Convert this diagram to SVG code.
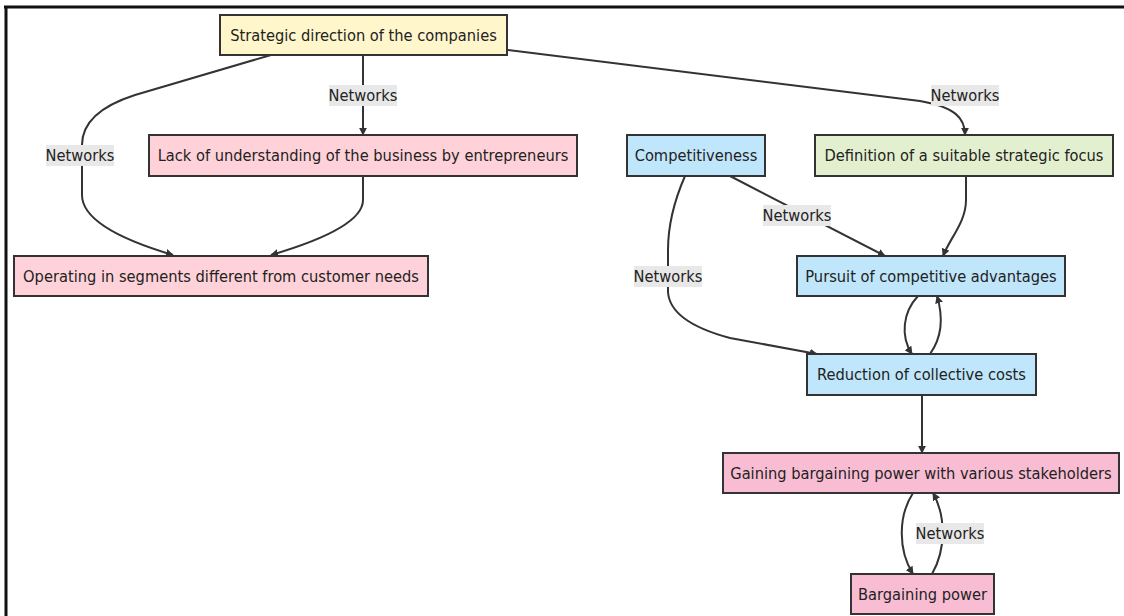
<svg xmlns="http://www.w3.org/2000/svg" width="1124" height="616" viewBox="0 0 1124 616">
<style>
.node rect{stroke:#333;stroke-width:2}
.node text,.lbl text{font-family:"DejaVu Sans Condensed","DejaVu Sans",sans-serif;font-size:16.3px;fill:#222;text-anchor:middle;dominant-baseline:central}
.edge{fill:none;stroke:#333;stroke-width:2}
.lbl rect{fill:#e8e8e8}
.yellow{fill:#fff6cc}
.pink{fill:#ffd2d9}
.blue{fill:#bfe6fb}
.green{fill:#e3f0cf}
.rose{fill:#f9bdd3}
</style>
<defs>
<marker id="arr" viewBox="0 0 10 10" refX="9" refY="5" markerWidth="4" markerHeight="4" orient="auto" markerUnits="strokeWidth">
<path d="M0,0 L10,5 L0,10 z" fill="#333"/>
</marker>
</defs>
<g id="frame">
<line x1="4" y1="7" x2="1124" y2="7" stroke="#111" stroke-width="3"/>
<line x1="6" y1="6" x2="6" y2="616" stroke="#111" stroke-width="3"/>
</g>
<g id="connectors">
<path class="edge" d="M271,55 L135,95 Q82,112 82,145 L82,195 Q82,228 173,255" marker-end="url(#arr)"/>
<path class="edge" d="M363,55 L363,135" marker-end="url(#arr)"/>
<path class="edge" d="M363,176 L363,200 Q363,228 271,255" marker-end="url(#arr)"/>
<path class="edge" d="M508,50 L920,101 C955,107 965,118 965,135" marker-end="url(#arr)"/>
<path class="edge" d="M966,176 L966,200 C966,222 950,238 943,256" marker-end="url(#arr)"/>
<path class="edge" d="M730,176 L885,256" marker-end="url(#arr)"/>
<path class="edge" d="M685,176 Q668,215 668,250 L668,292 Q670,322 730,338 L817,354" marker-end="url(#arr)"/>
<path class="edge" d="M918,296 C903,312 900,336 912,354" marker-end="url(#arr)"/>
<path class="edge" d="M930,354 C943,336 943,316 937,296" marker-end="url(#arr)"/>
<path class="edge" d="M922,395 L922,453" marker-end="url(#arr)"/>
<path class="edge" d="M913,493 C898,516 898,550 913,574" marker-end="url(#arr)"/>
<path class="edge" d="M932,574 C946,550 946,516 933,493" marker-end="url(#arr)"/>
</g>
<g id="edge-labels">
<g class="lbl"><rect x="46" y="145" width="68" height="21"/><text x="80" y="155.5">Networks</text></g>
<g class="lbl"><rect x="329" y="85" width="68" height="21"/><text x="363" y="95.5">Networks</text></g>
<g class="lbl"><rect x="931" y="85" width="68" height="21"/><text x="965" y="95.5">Networks</text></g>
<g class="lbl"><rect x="763" y="205" width="68" height="21"/><text x="797" y="215.5">Networks</text></g>
<g class="lbl"><rect x="634" y="266" width="68" height="21"/><text x="668" y="276.5">Networks</text></g>
<g class="lbl"><rect x="916" y="523" width="68" height="21"/><text x="950" y="533.5">Networks</text></g>
</g>
<g id="n-strategic" class="node"><rect class="yellow" x="220" y="15" width="287" height="40"/><text x="363.5" y="35">Strategic direction of the companies</text></g>
<g id="n-lack" class="node"><rect class="pink" x="149" y="135" width="428" height="41"/><text x="363" y="155.5">Lack of understanding of the business by entrepreneurs</text></g>
<g id="n-operating" class="node"><rect class="pink" x="14" y="256" width="414" height="40"/><text x="221" y="276">Operating in segments different from customer needs</text></g>
<g id="n-competitiveness" class="node"><rect class="blue" x="627" y="135" width="138" height="41"/><text x="696" y="155.5">Competitiveness</text></g>
<g id="n-definition" class="node"><rect class="green" x="815" y="135" width="298" height="41"/><text x="964" y="155.5">Definition of a suitable strategic focus</text></g>
<g id="n-pursuit" class="node"><rect class="blue" x="797" y="256" width="268" height="40"/><text x="931" y="276">Pursuit of competitive advantages</text></g>
<g id="n-reduction" class="node"><rect class="blue" x="807" y="354" width="229" height="41"/><text x="921.5" y="374.5">Reduction of collective costs</text></g>
<g id="n-gaining" class="node"><rect class="rose" x="723" y="453" width="396" height="40"/><text x="921" y="473">Gaining bargaining power with various stakeholders</text></g>
<g id="n-bargaining" class="node"><rect class="rose" x="851" y="574" width="143" height="40"/><text x="922.5" y="594">Bargaining power</text></g>
</svg>
